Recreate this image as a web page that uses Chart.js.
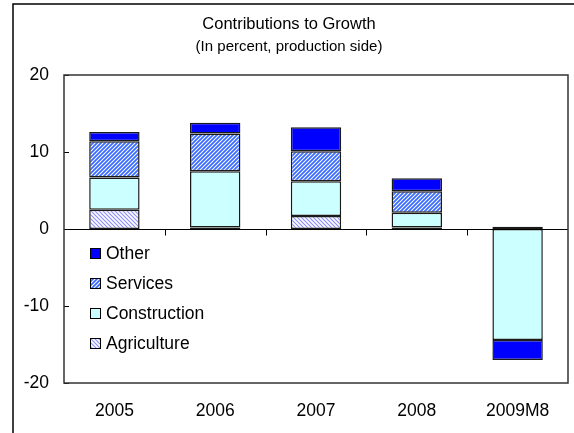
<!DOCTYPE html>
<html>
<head>
<meta charset="utf-8">
<script src="https://cdn.jsdelivr.net/npm/chart.js@4"></script>
<style>
  body { margin: 0; background: #fff; }
  #wrap { width: 574px; height: 433px; position: relative; }
</style>
</head>
<body>
<div id="wrap"><canvas id="growth" width="574" height="433"></canvas></div>
<script>
// contributions to growth, percentage points
const years = ['2005', '2006', '2007', '2008', '2009M8'];
const agriculture = [2.5, 0.2, 1.7, 0.2, 0.3];
const construction = [4.2, 7.3, 4.5, 1.9, -14.4];
const services = [4.7, 4.9, 3.9, 2.8, 0];
const other = [1.2, 1.4, 3.1, 1.7, -2.6];
const yTicks = [20, 10, 0, -10, -20];

const FONT = "'Liberation Sans', Arial, sans-serif";

// diagonal hatch fill, dir 1 = "/" and -1 = "\"
function hatch(color, dir, lw) {
  const n = 4;
  const c = document.createElement('canvas');
  c.width = n; c.height = n;
  const g = c.getContext('2d');
  g.fillStyle = '#fff';
  g.fillRect(0, 0, n, n);
  g.strokeStyle = color;
  g.lineWidth = lw;
  g.beginPath();
  if (dir > 0) {
    g.moveTo(-1, n + 1); g.lineTo(n + 1, -1);
    g.moveTo(-1, 1); g.lineTo(1, -1);
    g.moveTo(n - 1, n + 1); g.lineTo(n + 1, n - 1);
  } else {
    g.moveTo(-1, -1); g.lineTo(n + 1, n + 1);
    g.moveTo(n - 1, -1); g.lineTo(n + 1, 1);
    g.moveTo(-1, n - 1); g.lineTo(1, n + 1);
  }
  g.stroke();
  return g.createPattern(c, 'repeat');
}

const ctx = document.getElementById('growth').getContext('2d');

const agriFill = hatch('#8f8fff', -1, 1.2);
const servFill = hatch('#3a6bff', 1, 1.8);

const frameAndTitle = {
  id: 'frameAndTitle',
  beforeDraw(chart) {
    const c = chart.ctx;
    c.save();
    c.fillStyle = '#fff';
    c.fillRect(0, 0, chart.width, chart.height);
    c.strokeStyle = '#000';
    c.lineWidth = 1.5;
    c.strokeRect(13, 4, 700, 600);
    c.fillStyle = '#000';
    c.textAlign = 'center';
    c.textBaseline = 'middle';
    c.font = '16.5px ' + FONT;
    c.fillText('Contributions to Growth', 289, 24);
    c.font = '15px ' + FONT;
    c.fillText('(In percent, production side)', 289, 47);
    c.restore();
  },
  afterDatasetsDraw(chart) {
    const c = chart.ctx;
    const a = chart.chartArea;
    const x = chart.scales.x, y = chart.scales.y;
    const y0 = Math.round(y.getPixelForValue(0)) + 0.5;
    c.save();
    c.strokeStyle = '#000';
    c.lineWidth = 1;
    c.beginPath();
    // zero line with tick marks between categories
    c.moveTo(a.left, y0); c.lineTo(a.right, y0);
    const half = (x.getPixelForValue(1) - x.getPixelForValue(0)) / 2;
    for (let i = 0; i < years.length - 1; i++) {
      const px = Math.round(x.getPixelForValue(i) + half) + 0.5;
      c.moveTo(px, y0); c.lineTo(px, y0 + 6);
    }
    // inward tick marks on the value axis
    yTicks.forEach(v => {
      const py = Math.round(y.getPixelForValue(v)) + 0.5;
      c.moveTo(a.left, py); c.lineTo(a.left + 5, py);
    });
    c.stroke();
    c.strokeStyle = '#333';
    c.lineWidth = 1.5;
    c.strokeRect(a.left, a.top, a.right - a.left, a.bottom - a.top);

    // legend inside the plot, top series first
    const items = chart.data.datasets.slice().reverse();
    c.font = '17.5px ' + FONT;
    c.textBaseline = 'middle';
    c.textAlign = 'left';
    items.forEach((ds, i) => {
      const cy = 253 + i * 30;
      c.fillStyle = ds.backgroundColor;
      c.fillRect(90, cy - 5, 10, 10);
      c.strokeStyle = '#000';
      c.lineWidth = 1;
      c.strokeRect(90.5, cy - 4.5, 10, 10);
      c.fillStyle = '#000';
      c.fillText(ds.label, 106, cy + 1);
    });
    c.restore();
  }
};

const barStyle = { borderColor: '#1a1a1a', borderWidth: 1.5, borderSkipped: false };

new Chart(ctx, {
  type: 'bar',
  data: {
    labels: years,
    datasets: [
      { label: 'Agriculture', data: agriculture, backgroundColor: agriFill, ...barStyle },
      { label: 'Construction', data: construction, backgroundColor: '#ccffff', ...barStyle },
      { label: 'Services', data: services, backgroundColor: servFill, ...barStyle },
      { label: 'Other', data: other, backgroundColor: '#0000ff', ...barStyle }
    ]
  },
  options: {
    responsive: false,
    animation: false,
    barPercentage: 0.5,
    categoryPercentage: 1,
    layout: { padding: { left: 0, top: 75, right: 6, bottom: 0 } },
    plugins: {
      legend: { display: false },
      title: { display: false },
      tooltip: { enabled: false }
    },
    scales: {
      x: {
        stacked: true,
        grid: { display: false, drawTicks: false },
        border: { display: false },
        ticks: { color: '#000', font: { family: FONT, size: 17.5 }, padding: 18, maxRotation: 0 },
        afterFit(s) { s.height = 50; }
      },
      y: {
        stacked: true,
        min: -20,
        max: 20,
        grid: { display: false, drawTicks: false },
        border: { display: false },
        afterBuildTicks(s) { s.ticks = yTicks.map(v => ({ value: v })); },
        ticks: { color: '#000', font: { family: FONT, size: 17.5 }, padding: 15 },
        afterFit(s) { s.width = 64; }
      }
    }
  },
  plugins: [frameAndTitle]
});
</script>
</body>
</html>
